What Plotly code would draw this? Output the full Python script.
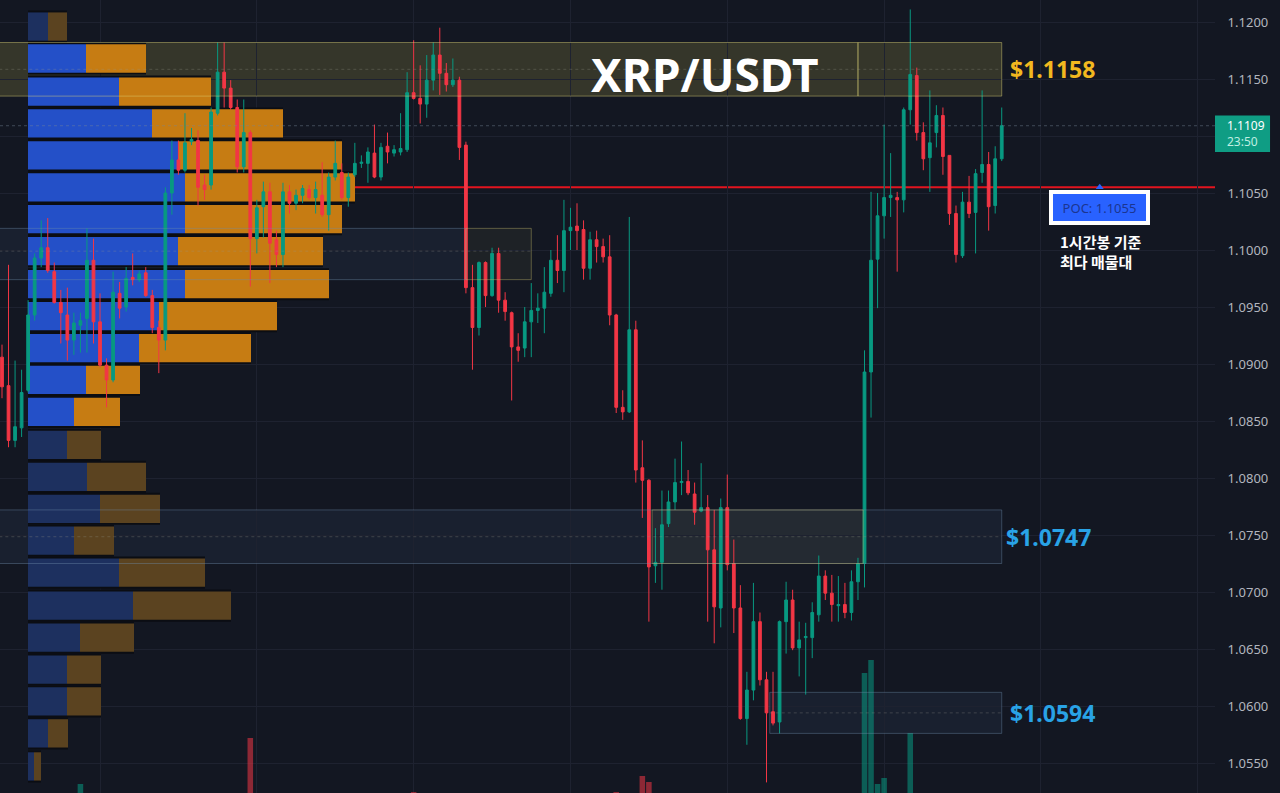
import plotly.graph_objects as go

# ---------------- candle data (1h candles, XRP/USDT) ----------------
idx = list(range(154))
open_ = [1.0906,1.0881,1.0833,1.0844,1.0877,1.0943,1.0993,1.1002,1.0981,1.0954,
         1.0943,1.0921,1.0934,1.0940,1.0991,1.0937,1.0899,1.0886,1.0962,1.0950,
         1.0976,1.0974,1.0980,1.0960,1.0932,1.0921,1.1050,1.1079,1.1070,1.1095,
         1.1096,1.1057,1.1057,1.1120,1.1156,1.1142,1.1125,1.1073,1.1103,1.1010,
         1.1038,1.1051,1.1009,1.0996,1.1051,1.1041,1.1048,1.1053,1.1046,1.1048,
         1.1031,1.1064,1.1068,1.1046,1.1066,1.1076,1.1076,1.1085,1.1064,1.1091,
         1.1085,1.1086,1.1088,1.1138,1.1133,1.1128,1.1149,1.1171,1.1155,1.1145,
         1.1149,1.1092,1.0967,1.0932,1.0989,1.0960,1.0997,1.0956,1.0945,1.0915,
         1.0914,1.0937,1.0947,1.0949,1.0962,1.0991,1.0982,1.1017,1.1021,1.1018,
         1.0984,1.1009,1.1003,1.0994,1.0943,1.0862,1.0858,1.0930,1.0809,1.0798,
         1.0723,1.0726,1.0760,1.0779,1.0796,1.0797,1.0786,1.0771,1.0774,1.0737,
         1.0686,1.0774,1.0725,1.0686,1.0589,1.0614,1.0674,1.0623,1.0595,1.0586,
         1.0674,1.0693,1.0651,1.0660,1.0660,1.0680,1.0714,1.0699,1.0688,1.0689,
         1.0682,1.0709,1.0725,1.0893,1.0992,1.1030,1.1046,1.1046,1.1044,1.1123,
         1.1153,1.1103,1.1081,1.1103,1.1118,1.1083,1.1032,1.0995,1.1042,1.1033,
         1.1068,1.1075,1.1039,1.1080]
high = [1.0917,1.0987,1.0903,1.0895,1.0956,1.0997,1.1026,1.1028,1.0989,1.0965,
        1.0967,1.0945,1.0945,1.1019,1.1010,1.0962,1.0905,1.0981,1.0972,1.0985,
        1.0997,1.0982,1.0985,1.0965,1.0938,1.1055,1.1096,1.1096,1.1120,1.1107,
        1.1105,1.1066,1.1125,1.1182,1.1182,1.1149,1.1132,1.1132,1.1105,1.1044,
        1.1060,1.1059,1.1017,1.1059,1.1057,1.1053,1.1057,1.1057,1.1060,1.1077,
        1.1068,1.1096,1.1076,1.1068,1.1094,1.1083,1.1090,1.1110,1.1094,1.1103,
        1.1092,1.1120,1.1156,1.1184,1.1162,1.1171,1.1182,1.1195,1.1164,1.1168,
        1.1152,1.1095,1.0987,1.0990,1.0990,1.1002,1.1002,1.0963,1.0946,1.0927,
        1.0950,1.0971,1.0962,1.0985,1.1000,1.1013,1.1044,1.1037,1.1041,1.1026,
        1.1016,1.1017,1.1010,1.1013,1.0944,1.0877,1.1029,1.0938,1.0833,1.0799,
        1.0756,1.0789,1.0789,1.0817,1.0832,1.0807,1.0796,1.0813,1.0785,1.0772,
        1.0782,1.0803,1.0746,1.0706,1.0630,1.0708,1.0682,1.0630,1.0630,1.0675,
        1.0709,1.0702,1.0674,1.0673,1.0691,1.0732,1.0719,1.0715,1.0714,1.0708,
        1.0719,1.0730,1.0912,1.1051,1.1050,1.1110,1.1085,1.1051,1.1125,1.1211,
        1.1160,1.1112,1.1140,1.1127,1.1125,1.1083,1.1039,1.1051,1.1065,1.1071,
        1.1140,1.1086,1.1091,1.1125]
low = [1.0870,1.0827,1.0827,1.0836,1.0875,1.0938,1.0985,1.0980,1.0953,1.0918,
       1.0903,1.0908,1.0910,1.0910,1.0918,1.0897,1.0862,1.0884,1.0940,1.0946,
       1.0969,1.0972,1.0959,1.0927,1.0892,1.0912,1.1031,1.1066,1.1068,1.1092,
       1.1039,1.1044,1.1053,1.1118,1.1125,1.1123,1.1068,1.1068,1.0968,1.0997,
       1.1011,1.0971,1.0985,1.0985,1.1032,1.1035,1.1041,1.1044,1.1032,1.1029,
       1.1017,1.1061,1.1044,1.1038,1.1064,1.1072,1.1059,1.1063,1.1061,1.1076,
       1.1082,1.1083,1.1086,1.1132,1.1111,1.1116,1.1140,1.1136,1.1139,1.1143,
       1.1079,1.0962,1.0895,1.0925,1.0950,1.0959,1.0945,1.0938,1.0868,1.0902,
       1.0906,1.0906,1.0936,1.0927,1.0959,1.0971,1.0963,1.1000,1.1000,1.0974,
       1.0974,1.0989,1.0989,1.0934,1.0857,1.0851,1.0857,1.0796,1.0765,1.0674,
       1.0708,1.0702,1.0757,1.0772,1.0785,1.0785,1.0759,1.0770,1.0674,1.0655,
       1.0669,1.0719,1.0664,1.0588,1.0566,1.0605,1.0618,1.0533,1.0583,1.0576,
       1.0646,1.0649,1.0626,1.0610,1.0642,1.0674,1.0693,1.0674,1.0674,1.0677,
       1.0675,1.0693,1.0704,1.0853,1.0949,1.1010,1.1029,1.0981,1.1033,1.1110,
       1.1096,1.1070,1.1051,1.1090,1.1066,1.1022,1.0989,1.0993,1.1028,1.0997,
       1.1059,1.1017,1.1032,1.1078]
close = [1.0880,1.0833,1.0845,1.0875,1.0943,1.0993,1.1002,1.0982,1.0954,1.0945,
         1.0921,1.0936,1.0938,1.0991,1.0937,1.0899,1.0886,1.0963,1.0949,1.0975,
         1.0974,1.0979,1.0960,1.0932,1.0921,1.1050,1.1079,1.1070,1.1094,1.1097,
         1.1055,1.1053,1.1121,1.1156,1.1142,1.1125,1.1073,1.1103,1.1010,1.1037,
         1.1051,1.1006,1.0996,1.1051,1.1041,1.1048,1.1054,1.1046,1.1053,1.1031,
         1.1064,1.1076,1.1046,1.1064,1.1076,1.1077,1.1086,1.1064,1.1090,1.1086,
         1.1088,1.1089,1.1138,1.1133,1.1128,1.1149,1.1171,1.1155,1.1145,1.1149,
         1.1090,1.0967,1.0932,1.0989,1.0960,1.0997,1.0956,1.0946,1.0915,1.0912,
         1.0937,1.0947,1.0949,1.0963,1.0991,1.0982,1.1017,1.1020,1.1017,1.0984,
         1.1009,1.1003,1.0994,1.0943,1.0862,1.0858,1.0930,1.0807,1.0798,1.0722,
         1.0726,1.0759,1.0779,1.0796,1.0797,1.0787,1.0770,1.0774,1.0737,1.0687,
         1.0774,1.0724,1.0686,1.0589,1.0614,1.0674,1.0623,1.0594,1.0585,1.0674,
         1.0693,1.0651,1.0658,1.0661,1.0682,1.0714,1.0699,1.0689,1.0689,1.0682,
         1.0709,1.0725,1.0893,1.0991,1.1030,1.1046,1.1048,1.1044,1.1123,1.1154,
         1.1103,1.1080,1.1094,1.1118,1.1082,1.1032,1.0996,1.1042,1.1032,1.1067,
         1.1075,1.1038,1.1080,1.1109]

# visible volume bars (only the tallest reach into the view)
vol_idx = [12, 38, 63, 94, 98, 99, 132, 133, 134, 135, 139]
vol_val = [116, 162, 108, 108, 124, 118, 227, 240, 116, 122, 167]

# ---------------- volume profile (24 rows) ----------------
vp_row_size = 0.00282
vp_price = [1.1196,1.1168,1.1139,1.1111,1.1083,1.1055,1.1027,1.0999,1.0970,1.0942,
            1.0914,1.0886,1.0858,1.0829,1.0801,1.0773,1.0745,1.0717,1.0688,1.0660,
            1.0632,1.0604,1.0576,1.0547]
vp_up = [20,58,91,124,150,157,157,150,157,131,111,58,46,39,59,72,46,91,105,52,39,39,20,6]
vp_down = [19,60,92,131,164,170,157,145,144,118,112,54,46,34,59,60,40,86,98,54,34,34,20,7]
vp_value_area = [False]+[True]*12+[False]*11

# ---------------- zones ----------------
zone_top = [1.1182, 1.1182, 1.1019, 1.1019, 1.0772, 1.0772, 1.0612]
zone_bot = [1.1135, 1.1135, 1.0974, 1.0974, 1.0725, 1.0725, 1.0576]
zone_i0 = [-5, 131, -5, 71, -5, 99.5, 117.5]
zone_i1 = [131, 153, 71, 81, 153, 131.8, 153]
zone_kind = ['olive', 'olive', 'blue', 'olive_dim', 'blue', 'olive_dim', 'blue']
zone_mid = [1.11585, 1.0999, 1.07485, 1.0594]
zone_mid_i0 = [-5, -5, -5, 117.5]
zone_mid_i1 = [153, 81, 153, 153]

label_price = [1.11585, 1.07485, 1.0594]
label_text = ['$1.1158', '$1.0747', '$1.0594']
label_color = ['#f2b81f', '#29a3e6', '#29a3e6']
label_shift = [6, 2, 6]

poc_price = 1.1055
last_price = 1.1109
last_box = [1.1086, 1.1118]
day_grid = [15, 39, 63, 87, 111, 135, 159, 183]
price_ticks = [1.055, 1.060, 1.065, 1.070, 1.075, 1.080, 1.085, 1.090, 1.095,
               1.100, 1.105, 1.110, 1.115, 1.120]
# the 1.1100 label is hidden behind the live price tag
price_tick_text = ['' if abs(t - 1.110) < 1e-9 else f'{t:.4f}' for t in price_ticks]

BG = '#131722'
GREEN = '#089981'
RED = '#f23645'

fig = go.Figure()

# profile (base axes x/y, drawn beneath candles)
totals = [u + d for u, d in zip(vp_up, vp_down)]
fig.add_trace(go.Bar(orientation='h', y=vp_price, x=totals, width=vp_row_size,
                     marker=dict(color='#0b0d13', line=dict(width=0)),
                     xaxis='x', yaxis='y', hoverinfo='skip', showlegend=False))
blue_c = ['#2450c8' if v else '#1d305f' for v in vp_value_area]
orange_c = ['#c67c13' if v else '#5b4320' for v in vp_value_area]
fig.add_trace(go.Bar(orientation='h', y=vp_price, x=vp_up, width=vp_row_size * 0.88,
                     marker=dict(color=blue_c, line=dict(width=0)),
                     xaxis='x', yaxis='y', hoverinfo='skip', showlegend=False))
fig.add_trace(go.Bar(orientation='h', y=vp_price, x=vp_down, base=vp_up,
                     width=vp_row_size * 0.88,
                     marker=dict(color=orange_c, line=dict(width=0)),
                     xaxis='x', yaxis='y', hoverinfo='skip', showlegend=False))

# volume bars
vol_colors = [GREEN if close[i] >= open_[i] else RED for i in vol_idx]
fig.add_trace(go.Bar(x=vol_idx, y=vol_val, width=0.85, marker=dict(color=vol_colors, line=dict(width=0)),
                     opacity=0.55, xaxis='x2', yaxis='y3', hoverinfo='skip', showlegend=False))

# candles
fig.add_trace(go.Candlestick(x=idx, open=open_, high=high, low=low, close=close,
                             xaxis='x2', yaxis='y', whiskerwidth=0,
                             increasing=dict(line=dict(color=GREEN, width=1), fillcolor=GREEN),
                             decreasing=dict(line=dict(color=RED, width=1), fillcolor=RED),
                             hoverinfo='skip', showlegend=False))

# POC pointer marker
fig.add_trace(go.Scatter(x=[168], y=[poc_price], mode='markers', xaxis='x2', yaxis='y',
                         marker=dict(symbol='triangle-up', size=7, color='#2962ff'),
                         hoverinfo='skip', showlegend=False))

shapes = []
fill_col = {'olive': 'rgba(200,190,80,0.19)', 'olive_dim': 'rgba(170,160,90,0.08)',
            'blue': 'rgba(80,120,170,0.10)'}
line_col = {'olive': 'rgba(220,210,120,0.45)', 'olive_dim': 'rgba(200,190,110,0.40)',
            'blue': 'rgba(110,140,170,0.40)'}
for t, b, a, e, k in zip(zone_top, zone_bot, zone_i0, zone_i1, zone_kind):
    shapes.append(dict(type='rect', xref='x2', yref='y', x0=a, x1=e, y0=b, y1=t,
                       fillcolor=fill_col[k], line=dict(width=0), layer='below'))
for t, b, a, e, k in zip(zone_top, zone_bot, zone_i0, zone_i1, zone_kind):
    shapes.append(dict(type='rect', xref='x2', yref='y', x0=a, x1=e, y0=b, y1=t,
                       fillcolor='rgba(0,0,0,0)', line=dict(width=1, color=line_col[k]), layer='above'))
for m, a, e in zip(zone_mid, zone_mid_i0, zone_mid_i1):
    shapes.append(dict(type='line', xref='x2', yref='y', x0=a, x1=e, y0=m, y1=m,
                       line=dict(width=1, color='rgba(150,150,140,0.30)', dash='dot'), layer='above'))
# POC line
shapes.append(dict(type='line', xref='x', yref='y', x0=0, x1=1187, y0=poc_price, y1=poc_price,
                   line=dict(width=2, color='#e3141f'), layer='below'))
# last price line
shapes.append(dict(type='line', xref='paper', yref='y', x0=0, x1=1, y0=last_price, y1=last_price,
                   line=dict(width=1, color='rgba(120,135,150,0.45)', dash='dot'), layer='above'))
# live price tag background on the price scale
shapes.append(dict(type='rect', xref='paper', yref='y', x0=1, x1=1.0453, y0=last_box[0], y1=last_box[1],
                   fillcolor='#0f9d84', line=dict(width=0), layer='above'))

annotations = [
    dict(xref='x2', yref='y', x=107.6, y=1.1154, text='<b>XRP/USDT</b>', showarrow=False,
         font=dict(family='Noto Sans', size=46, color='white'), xanchor='center', yanchor='middle'),
]
for p, t, c, s in zip(label_price, label_text, label_color, label_shift):
    annotations.append(dict(xref='x2', yref='y', x=153, y=p, text='<b>' + t + '</b>', showarrow=False,
                            xanchor='left', yanchor='middle', xshift=s,
                            font=dict(family='Noto Sans', size=23, color=c)))
annotations.append(dict(xref='x2', yref='y', x=168, y=1.1037, text='POC: 1.1055', showarrow=False,
                        xanchor='center', yanchor='middle', width=93, height=27, borderpad=0,
                        bgcolor='#2962ff', bordercolor='white', borderwidth=4,
                        font=dict(family='Noto Sans', size=13, color='#1b3590')))
annotations.append(dict(xref='x2', yref='y', x=161.6, y=1.0999,
                        text='<b>1시간봉 기준</b><br><b>최다 매물대</b>', showarrow=False, align='left',
                        xanchor='left', yanchor='middle',
                        font=dict(family='Noto Sans CJK KR', size=15, color='white')))
annotations.append(dict(xref='paper', yref='y', x=1, y=1.1102, xshift=10,
                        text="1.1109<br><span style='color:#bfeee2'>23:50</span>",
                        showarrow=False, xanchor='left', yanchor='middle', align='left',
                        font=dict(family='Noto Sans', size=12, color='white')))

fig.update_layout(
    width=1280, height=793, margin=dict(l=0, r=65, t=0, b=0),
    paper_bgcolor=BG, plot_bgcolor=BG, barmode='overlay', boxgap=0.4,
    showlegend=False, hovermode=False,
    xaxis=dict(range=[-28, 1187], visible=False, fixedrange=True),
    xaxis2=dict(overlaying='x', range=[-0.306, 185.64], tickvals=day_grid, showticklabels=False,
                showgrid=True, gridcolor='#1e2230', gridwidth=1, zeroline=False, ticks='',
                side='bottom', rangeslider=dict(visible=False), fixedrange=True),
    yaxis=dict(range=[1.05237, 1.12193], side='right', tickvals=price_ticks, ticktext=price_tick_text,
               showgrid=True, gridcolor='#1e2230', zeroline=False, showline=False,
               ticks='outside', ticklen=9, tickcolor=BG,
               tickfont=dict(family='Noto Sans', size=13, color='#b2b5be'), fixedrange=True),
    yaxis3=dict(overlaying='y', range=[107, 900], visible=False, fixedrange=True),
    shapes=shapes, annotations=annotations,
)

fig.write_html('out.html', config={'displayModeBar': False})
